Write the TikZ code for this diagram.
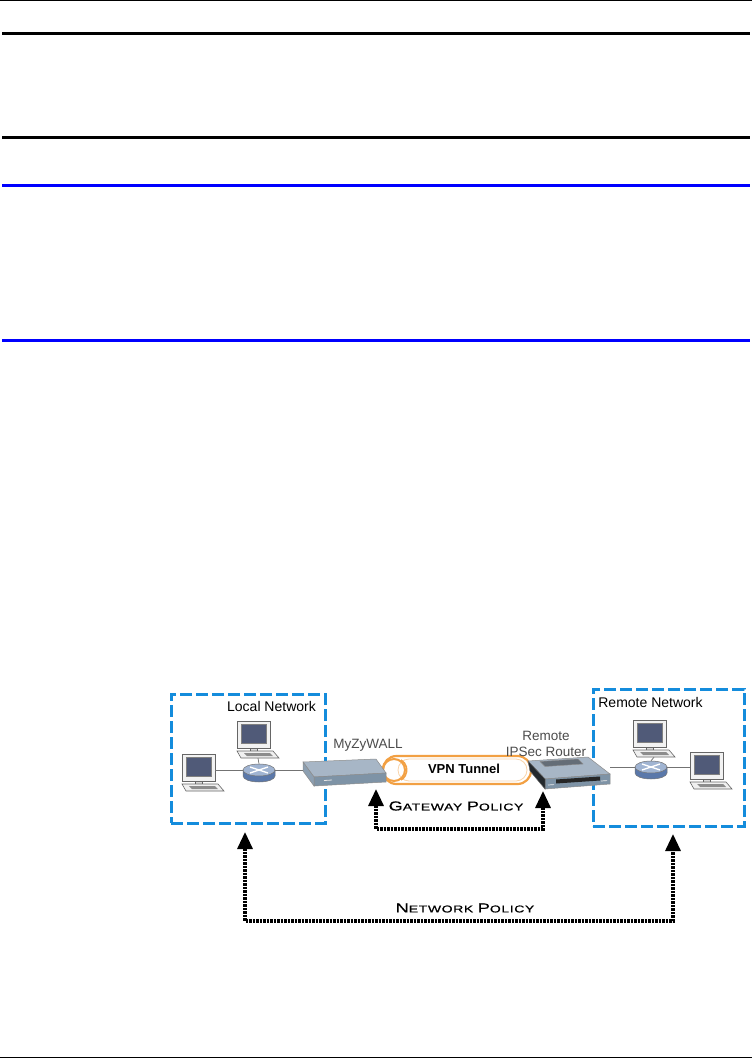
\documentclass[tikz,border=0pt]{standalone}
\usepackage{fontspec}
\setmainfont{Liberation Sans}
\newfontfamily\widef[FakeStretch=1.4,LetterSpace=6,FakeBold=0.6]{Liberation Sans}
\usetikzlibrary{arrows.meta}
\definecolor{netblue}{RGB}{20,140,220}
\definecolor{pageblue}{RGB}{0,0,255}
\definecolor{screen}{RGB}{80,90,120}
\definecolor{rside}{RGB}{90,120,170}
\definecolor{rtop}{RGB}{160,180,210}
\definecolor{tube}{RGB}{242,160,67}
\definecolor{devtop}{RGB}{167,182,198}
\definecolor{devfront}{RGB}{126,147,166}
\definecolor{devside}{RGB}{140,159,177}
\newcommand\capsA[2]{{\fontsize{13}{13}\selectfont #1}{\fontsize{10}{10}\selectfont #2}}
\tikzset{
  ptip/.tip={Triangle[width=15pt,length=17pt]},
  pcpic/.pic={
    \filldraw[fill=gray!10, draw=black!60, line width=0.6pt] (0,0) rectangle (33,27);
    \filldraw[fill=screen, draw=black!50, line width=0.5pt] (4,3) rectangle (29,22);
    \filldraw[fill=gray!30, draw=black!60, line width=0.5pt] (13,27) rectangle (20,30);
    \filldraw[fill=gray!12, draw=black!60, line width=0.6pt] (0,30) -- (36,30) -- (42,37) -- (4,37) -- cycle;
    \fill[black!45] (7,32) -- (33,32) -- (36,35) -- (10,35) -- cycle;
    \node[inner sep=0, minimum width=33pt, minimum height=27pt] (-mon) at (16.5,13.5) {};
    \node[inner sep=0, minimum width=42pt, minimum height=37pt] (-all) at (21,18.5) {};
  },
  routerpic/.pic={
    \filldraw[fill=rside, draw=black!55, line width=0.5pt] (-16,0) -- (-16,6) arc[start angle=180, end angle=0, x radius=16, y radius=6] -- (16,0) -- cycle;
    \filldraw[fill=rtop, draw=black!55, line width=0.5pt] (0,0) ellipse[x radius=16, y radius=6];
    \draw[white, line width=1.3pt] (-9,-3) -- (9,3) (-9,3) -- (9,-3);
    \node[inner sep=0, minimum width=32pt, minimum height=12pt] (-n) at (0,0) {};
  },
  netbox/.style={draw=netblue, line width=3pt, dash pattern=on 12pt off 4pt, inner sep=0},
  netline/.style={draw=black!55, line width=0.7pt},
  policy/.style={draw=black, line width=3.2pt, dash pattern=on 2.4pt off 1.1pt},
  lbl/.style={inner sep=0, font=\fontsize{14}{14}\selectfont},
  devlbl/.style={inner sep=0, text=black!70, font=\fontsize{13.5}{16}\selectfont, align=center},
  pollbl/.style={inner sep=0, font=\widef},
}
\begin{document}
\begin{tikzpicture}[x=1pt,y=-1pt]
\useasboundingbox (0,0) rectangle (752,1059);
\fill[white] (0,0) rectangle (752,1059);
% page rules
\draw[black, line width=1pt] (0,0.5) -- (752,0.5);
\draw[black, line width=3pt] (2,34) -- (750,34);
\draw[black, line width=3pt] (2,138) -- (750,138);
\draw[pageblue, line width=3pt] (2,186) -- (750,186);
\draw[pageblue, line width=3pt] (2,340) -- (750,340);
\draw[black, line width=1pt] (0,1057.5) -- (752,1057.5);

% network boxes
\node[netbox, minimum width=154pt, minimum height=129pt] (lan) at (248,758.5) {};
\node[netbox, minimum width=151pt, minimum height=137pt] (ran) at (668.5,757.5) {};
\node[lbl] (lanlbl) at (271.5,706) {Local Network};
\node[lbl] (ranlbl) at (650.5,702) {Remote Network};

% VPN tunnel
\node[draw=tube, line width=2.2pt, fill=white, rounded corners=13.5pt, minimum width=148pt, minimum height=28pt, inner sep=0] (tunnel) at (457,770) {};
\draw[tube!45, line width=0.8pt, rounded corners=11pt] (398,759) rectangle (527,781);
\draw[tube, line width=2pt] (394,770) circle[radius=11];
\draw[tube, line width=1.6pt] (401,760) arc[start angle=-60, end angle=60, radius=11.5];
\node[inner sep=0, font=\bfseries\fontsize{13}{13}\selectfont] (vpnlbl) at (464,769) {VPN Tunnel};

% MyZyWALL device
\filldraw[fill=devtop, draw=black!45, line width=0.5pt] (303,762) -- (376,759) -- (386,773) -- (314,777) -- cycle;
\filldraw[fill=devfront, draw=black!45, line width=0.5pt] (314,777) -- (386,773) -- (386,782) -- (314,786) -- cycle;
\filldraw[fill=devside, draw=black!45, line width=0.5pt] (303,762) -- (314,777) -- (314,786) -- (303,771) -- cycle;
\draw[white!80!gray, line width=0.8pt] (324,780.5) -- (332,780);
\node[inner sep=0, minimum width=83pt, minimum height=27pt] (myzy) at (344.5,772.5) {};
\node[devlbl] (myzylbl) at (368,745) {MyZyWALL};

% Remote IPSec router
\filldraw[fill=devtop, draw=black!45, line width=0.5pt] (528,761) -- (588,757) -- (610,774) -- (545,779) -- cycle;
\filldraw[fill=black!40!devtop, draw=black!45, line width=0.4pt] (540,761.5) -- (578,759) -- (583,764) -- (545,766.5) -- cycle;
\filldraw[fill=devfront, draw=black!45, line width=0.5pt] (545,779) -- (610,774) -- (610,784) -- (545,789) -- cycle;
\filldraw[fill=black!75!devside, draw=black!60, line width=0.5pt] (528,761) -- (545,779) -- (545,789) -- (530,771) -- cycle;
\fill[black!85] (556,779.5) -- (600,776.5) -- (600,780.5) -- (556,783.5) -- cycle;
\draw[white!85!gray, line width=0.7pt] (548,785) -- (554,784.6) (601,781) -- (607,780.6);
\node[inner sep=0, minimum width=82pt, minimum height=32pt] (ipsec) at (569,773) {};
\node[devlbl] (ipseclbl) at (546,743.5) {Remote\\IPSec Router};

% local network computers and router
\pic (pcLU) at (237,721) {pcpic};
\pic (pcL) at (182,754) {pcpic};
\pic (rtL) at (259,770) {routerpic};
\draw[netline] (pcLU-all.south) -- (rtL-n.north);
\draw[netline] (rtL-n.west -| pcL-mon.east) -- (rtL-n.west);
\draw[netline] (rtL-n.east) -- (rtL-n.east -| myzy.west);

% remote network computers and router
\pic (pcRU) at (633,720) {pcpic};
\pic (pcR) at (690,752) {pcpic};
\pic (rtR) at (651,767) {routerpic};
\draw[netline] (pcRU-all.south) -- (rtR-n.north);
\draw[netline] (rtR-n.west -| ipsec.east) -- (rtR-n.west);
\draw[netline] (rtR-n.east) -- (rtR-n.east -| pcR-mon.west);

% gateway policy
\coordinate (gwL) at (376,789);
\coordinate (gwLb) at (376,829);
\coordinate (gwRb) at (543,829);
\coordinate (gwR) at (543,791);
\draw[policy, ptip-ptip] (gwL) -- (gwLb) -- (gwRb) -- (gwR);
\node[pollbl] (gwlbl) at (456,806) {\capsA{G}{ATEWAY} \capsA{P}{OLICY}};

% network policy
\coordinate (npL) at (245,832);
\coordinate (npLb) at (245,921);
\coordinate (npRb) at (673,921);
\coordinate (npR) at (673,834);
\draw[policy, ptip-ptip] (npL) -- (npLb) -- (npRb) -- (npR);
\node[pollbl] (nplbl) at (465,908) {\capsA{N}{ETWORK} \capsA{P}{OLICY}};
\end{tikzpicture}
\end{document}
